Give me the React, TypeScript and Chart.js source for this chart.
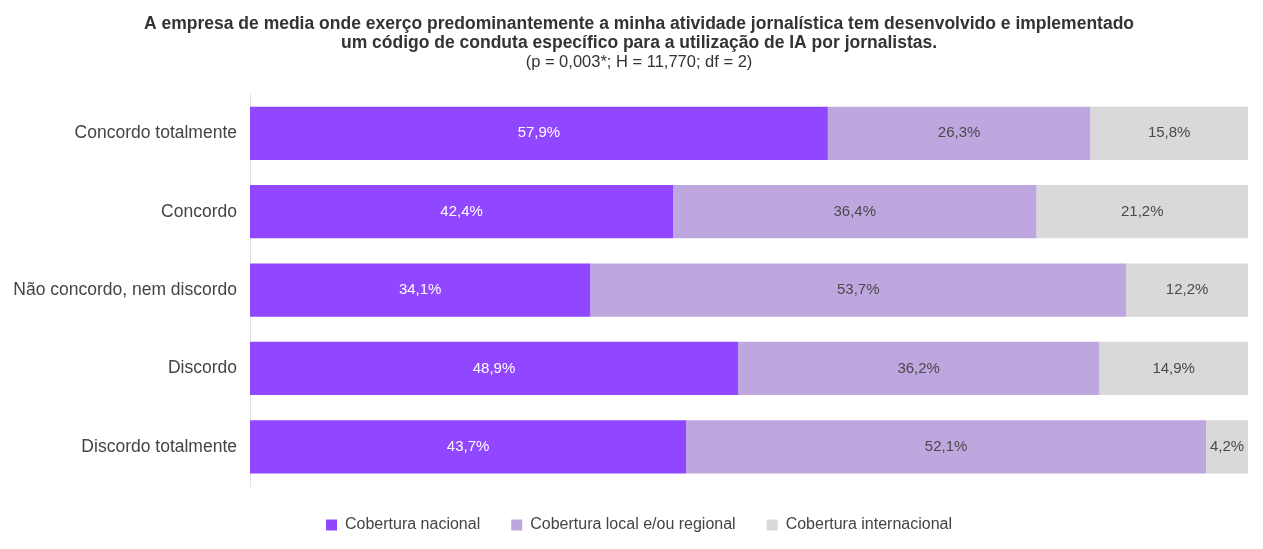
import React, { useEffect, useRef } from "react";
import { Chart, registerables } from "chart.js";

Chart.register(...registerables);

const categories = [
  "Concordo totalmente",
  "Concordo",
  "Não concordo, nem discordo",
  "Discordo",
  "Discordo totalmente",
];
const nacional = [57.9, 42.4, 34.1, 48.9, 43.7];
const local = [26.3, 36.4, 53.7, 36.2, 52.1];
const internacional = [15.8, 21.2, 12.2, 14.9, 4.2];
const seriesNames = ["Cobertura nacional", "Cobertura local e/ou regional", "Cobertura internacional"];
const titleLines = [
  "A empresa de media onde exerço predominantemente a minha atividade jornalística tem desenvolvido e implementado",
  "um código de conduta específico para a utilização de IA por jornalistas.",
];
const subtitleText = "(p = 0,003*; H = 11,770; df = 2)";

const FONT = '"Liberation Sans", Arial, Helvetica, sans-serif';
const fmt = (v: number) => v.toFixed(1).replace(".", ",") + "%";

const labelPlugin = {
  id: "segLabels",
  afterLayout(chart: any) {
    // let the category labels extend into the left padding without clipping
    const y = chart.scales.y;
    if (y) y.left = 0;
  },
  afterDatasetsDraw(chart: any) {
    const ctx = chart.ctx;
    ctx.save();
    ctx.font = "15px " + FONT;
    ctx.textAlign = "center";
    ctx.textBaseline = "middle";
    chart.data.datasets.forEach((ds: any, di: number) => {
      const meta = chart.getDatasetMeta(di);
      meta.data.forEach((el: any, i: number) => {
        const v = ds.data[i];
        const cx = (el.x + el.base) / 2;
        ctx.fillStyle = di === 0 ? "#ffffff" : "#4a4a4a";
        ctx.fillText(fmt(v), cx, el.y);
      });
    });
    ctx.restore();
  },
};

export default function App() {
  const ref = useRef<HTMLCanvasElement | null>(null);
  useEffect(() => {
    document.body.style.margin = "0";
    const chart = new Chart(ref.current as HTMLCanvasElement, {
      type: "bar",
      data: {
        labels: categories,
        datasets: [
          { label: seriesNames[0], data: nacional, backgroundColor: "#9146FF", barPercentage: 0.68, categoryPercentage: 1 },
          { label: seriesNames[1], data: local, backgroundColor: "#BEA6DF", barPercentage: 0.68, categoryPercentage: 1 },
          { label: seriesNames[2], data: internacional, backgroundColor: "#D9D9D9", barPercentage: 0.68, categoryPercentage: 1 },
        ],
      },
      options: {
        indexAxis: "y",
        animation: false,
        responsive: true,
        maintainAspectRatio: false,
        layout: { padding: { left: 30, right: 15, top: 0, bottom: 6 } },
        scales: {
          x: {
            stacked: true,
            min: 0,
            max: 100,
            display: false,
          },
          y: {
            stacked: true,
            grid: { display: false, drawTicks: false },
            border: { display: true, color: "#E3E3E3", width: 1 },
            ticks: {
              color: "#444444",
              padding: 13,
              font: { family: FONT, size: 17.5 },
            },
            afterFit(scale: any) {
              scale.width = 220;
            },
          },
        },
        plugins: {
          title: {
            display: true,
            text: titleLines,
            color: "#333333",
            font: { family: FONT, size: 17.5, weight: "bold", lineHeight: 1.09 },
            padding: { top: 15, bottom: 0 },
          },
          subtitle: {
            display: true,
            text: subtitleText,
            color: "#333333",
            font: { family: FONT, size: 16.5, lineHeight: 1.15 },
            padding: { top: 0, bottom: 22 },
          },
          legend: {
            position: "bottom",
            labels: {
              boxWidth: 11,
              boxHeight: 11,
              padding: 31,
              color: "#444444",
              font: { family: FONT, size: 16 },
            },
          },
          tooltip: { enabled: false },
        },
      },
      plugins: [labelPlugin],
    } as any);
    return () => chart.destroy();
  }, []);
  return (
    <div style={{ position: "absolute", left: 0, top: 0, width: 1263, height: 549 }}>
      <canvas ref={ref} />
    </div>
  );
}
